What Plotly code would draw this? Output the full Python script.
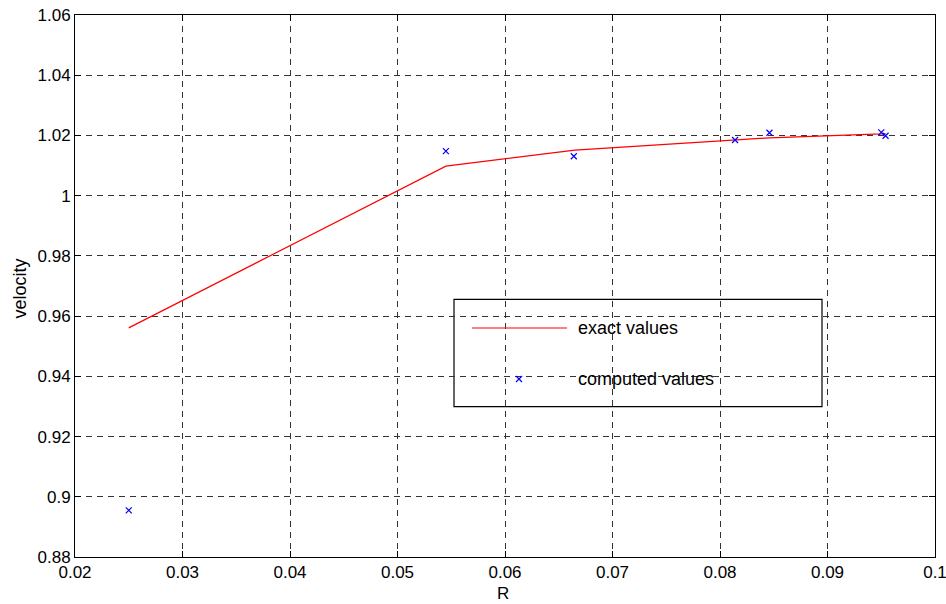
import plotly.graph_objects as go

# ---- data ----
r_exact = [0.025, 0.0545, 0.0665, 0.0814, 0.0846, 0.0950, 0.0954]
v_exact = [0.9561, 1.0098, 1.0151, 1.0185, 1.0192, 1.0205, 1.0206]

r_comp = [0.025, 0.0545, 0.0664, 0.0814, 0.0846, 0.0950, 0.0954]
v_comp = [0.8955, 1.0148, 1.0131, 1.0185, 1.0209, 1.0210, 1.0199]

x_ticks = [0.02, 0.03, 0.04, 0.05, 0.06, 0.07, 0.08, 0.09, 0.1]
x_ticklabels = ["0.02", "0.03", "0.04", "0.05", "0.06", "0.07", "0.08", "0.09", "0.1"]
y_ticks = [0.88, 0.90, 0.92, 0.94, 0.96, 0.98, 1.00, 1.02, 1.04, 1.06]
y_ticklabels = ["0.88", "0.9", "0.92", "0.94", "0.96", "0.98", "1", "1.02", "1.04", "1.06"]

legend_labels = ["exact values", "computed values"]
x_title = "R"
y_title = "velocity"

FONT = "Liberation Sans, Arial, sans-serif"

fig = go.Figure()
fig.add_trace(go.Scatter(x=r_exact, y=v_exact, mode="lines",
                         line=dict(color="red", width=1.2),
                         name=legend_labels[0], showlegend=False))
fig.add_trace(go.Scatter(x=r_comp, y=v_comp, mode="markers",
                         marker=dict(symbol="x-thin", size=6, color="blue",
                                     line=dict(color="blue", width=1.2)),
                         name=legend_labels[1], showlegend=False))

# legend marker on an overlay axis spanning the plot area
fig.add_trace(go.Scatter(x=[0.5163], y=[0.3284], mode="markers", xaxis="x2", yaxis="y2",
                         marker=dict(symbol="x-thin", size=6, color="blue",
                                     line=dict(color="blue", width=1.2)),
                         showlegend=False, hoverinfo="skip"))

axis_common = dict(showline=True, linecolor="black", linewidth=1, mirror="ticks",
                   ticks="inside", ticklen=6, tickcolor="black", automargin=False,
                   ticklabeloverflow="allow",
                   showgrid=True, gridcolor="#333333", gridwidth=1, griddash="6px,5px",
                   zeroline=False, tickfont=dict(family=FONT, size=17, color="black"))

fig.update_layout(
    width=946, height=604,
    margin=dict(l=75, r=11, t=15, b=47),
    paper_bgcolor="white", plot_bgcolor="white",
    font=dict(family=FONT, size=16, color="black"),
    xaxis=dict(range=[0.02, 0.1], tickvals=x_ticks, ticktext=x_ticklabels, **axis_common),
    yaxis=dict(range=[0.88, 1.06], tickvals=y_ticks, ticktext=y_ticklabels, **axis_common),
    xaxis2=dict(overlaying="x", range=[0, 1], visible=False, anchor="y2"),
    yaxis2=dict(overlaying="y", range=[0, 1], visible=False, anchor="x2"),
    showlegend=False,
)

# axis titles
fig.add_annotation(x=0.4977, y=-0.0682, xref="paper", yref="paper", text=x_title,
                   showarrow=False, xanchor="center", yanchor="middle",
                   font=dict(family=FONT, size=17, color="black"))
fig.add_annotation(x=-0.0645, y=0.4945, xref="paper", yref="paper", text=y_title,
                   showarrow=False, xanchor="center", yanchor="middle", textangle=-90,
                   font=dict(family=FONT, size=18, color="black"))

# custom MATLAB-style legend box
fig.add_shape(type="rect", xref="paper", yref="paper",
              x0=0.4407, x1=0.8686, y0=0.2773, y1=0.4755,
              line=dict(color="black", width=1.2), fillcolor="white", layer="between")
fig.add_shape(type="line", xref="paper", yref="paper",
              x0=0.4616, x1=0.5721, y0=0.4225, y1=0.4225,
              line=dict(color="red", width=1.2), layer="above")
fig.add_annotation(x=0.5826, y=0.4225, xref="paper", yref="paper", text=legend_labels[0],
                   showarrow=False, xanchor="left", yanchor="middle",
                   font=dict(family=FONT, size=18, color="black"))
fig.add_annotation(x=0.5826, y=0.3284, xref="paper", yref="paper", text=legend_labels[1],
                   showarrow=False, xanchor="left", yanchor="middle",
                   font=dict(family=FONT, size=18, color="black"))

fig.write_html("out.html", config={"displayModeBar": False},
               post_script="document.body.style.margin='0px';")
